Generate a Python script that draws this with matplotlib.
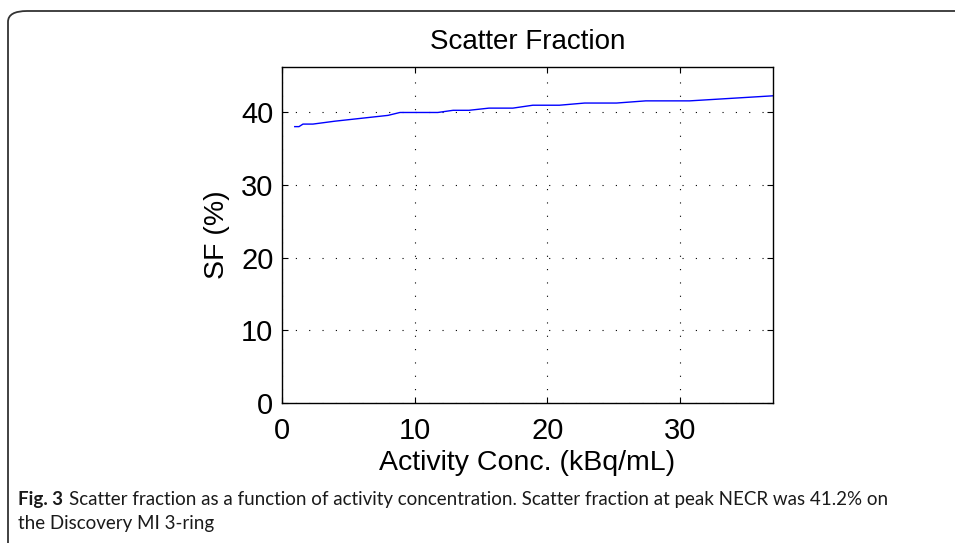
import matplotlib
matplotlib.use("Agg")
import matplotlib.pyplot as plt
from matplotlib.patches import FancyBboxPatch

# scatter fraction vs activity concentration
activity = [0.98, 1.3, 1.6, 2.35, 4.0, 6.0, 8.0, 8.9, 11.75, 12.9, 14.1, 15.6,
            17.4, 18.9, 20.9, 22.8, 25.2, 27.4, 30.7, 37.0]
sf = [38.05, 38.05, 38.4, 38.4, 38.8, 39.2, 39.6, 40.0, 40.0, 40.3, 40.3, 40.6,
      40.6, 41.0, 41.0, 41.3, 41.3, 41.6, 41.6, 42.3]
xticks = [0, 10, 20, 30]
yticks = [0, 10, 20, 30, 40]

plt.rcParams["font.family"] = ["Liberation Sans", "DejaVu Sans"]

fig = plt.figure(figsize=(9.55, 5.43), dpi=100)
ax = fig.add_axes([0.295, 0.2584, 0.5147, 0.6173])

ax.plot(activity, sf, color="#0000ff", lw=1.0)
ax.set_xlim(0, 37)
ax.set_ylim(0, 46.2)
ax.set_xticks(xticks)
ax.set_yticks(yticks)
ax.grid(True, color="black", linestyle=(0, (1, 11)), linewidth=0.8)
ax.tick_params(direction="in", length=4, width=0.8, labelsize=21,
               top=True, right=True)
ax.tick_params(axis="x", pad=10)
ax.tick_params(axis="y", pad=6)
for s in ax.spines.values():
    s.set_linewidth(1.0)

ax.set_title("Scatter Fraction", fontsize=20, pad=13)
ax.set_xlabel("Activity Conc. (kBq/mL)", fontsize=20.5, labelpad=4)
ax.set_ylabel("SF (%)", fontsize=20.5, labelpad=8)

# rounded frame of the figure panel
frame = FancyBboxPatch((8 / 955, -0.2), 1.2, 1.2 - 11 / 543,
                       boxstyle="round,pad=0,rounding_size=0.02",
                       transform=fig.transFigure, fill=False,
                       edgecolor="#333333", linewidth=1.3, clip_on=False)
fig.patches.append(frame)

cap = dict(fontsize=13.5, family="Lato", va="center", color="#1a1a1a")
fig.text(18 / 955, 1 - 500 / 543, "Fig. 3", fontweight="bold", **cap)
fig.text(69 / 955, 1 - 500 / 543,
         "Scatter fraction as a function of activity concentration. "
         "Scatter fraction at peak NECR was 41.2% on", **cap)
fig.text(18 / 955, 1 - 523 / 543, "the Discovery MI 3-ring", **cap)

fig.savefig("out.png", dpi=100)
